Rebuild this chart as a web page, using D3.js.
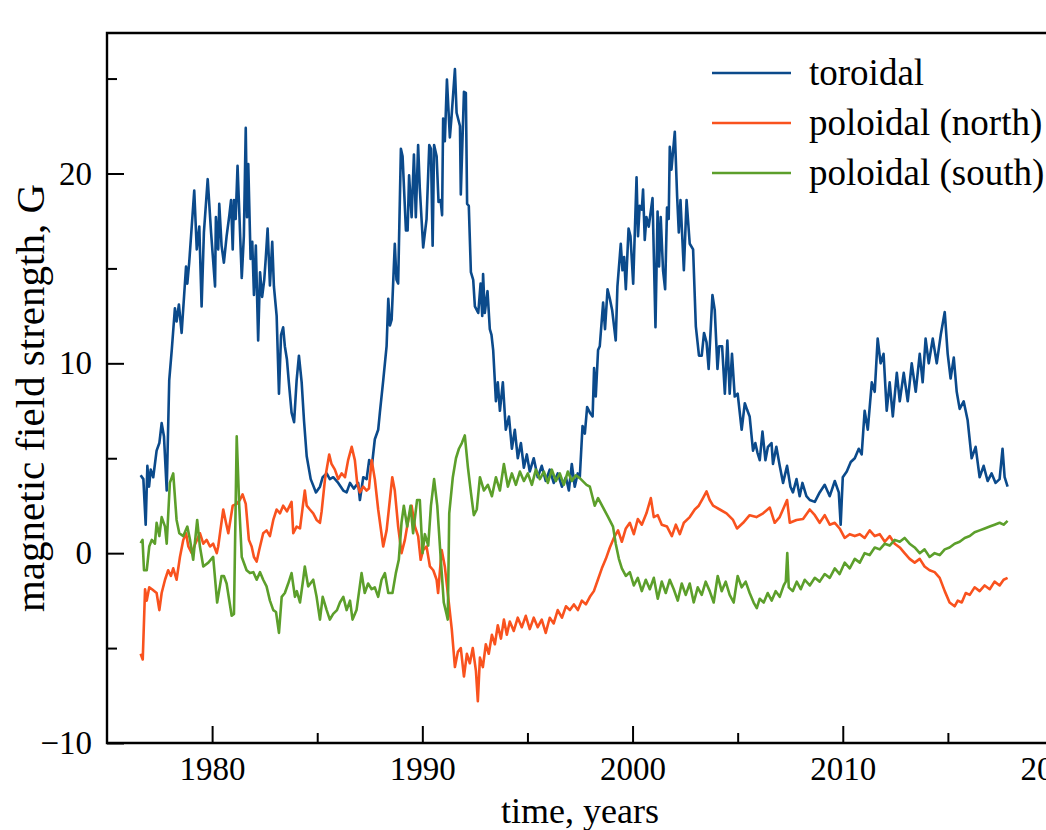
<!DOCTYPE html>
<html>
<head>
<meta charset="utf-8">
<script src="https://cdn.jsdelivr.net/npm/d3@7"></script>
<style>
  body { margin: 0; background: #fff; }
  svg { display: block; font-family: "Liberation Serif", "Times New Roman", serif; }
</style>
</head>
<body>
<svg class="chart"></svg>
<script>
// [year, field strength in G]
const toroidal = [
  [1976.60,4.1],[1976.73,3.9],[1976.84,1.5],[1976.92,4.6],[1977.00,3.5],[1977.08,4.4],[1977.20,4.0],
  [1977.36,5.4],[1977.49,5.8],[1977.60,6.85],[1977.71,6.15],[1977.84,3.3],[1977.96,9.1],[1978.08,10.7],
  [1978.23,12.9],[1978.31,12.2],[1978.42,13.1],[1978.55,11.6],[1978.76,15.1],[1978.82,14.2],[1978.91,15.3],
  [1979.15,19.1],[1979.27,16.0],[1979.39,17.2],[1979.50,13.0],[1979.61,16.9],[1979.79,19.7],[1979.95,16.9],
  [1980.14,14.05],[1980.18,17.7],[1980.29,16.0],[1980.34,18.4],[1980.45,16.2],[1980.56,15.3],[1980.69,16.7],
  [1980.82,17.8],[1980.90,18.6],[1980.98,16.0],[1981.04,18.6],[1981.12,17.6],[1981.21,20.4],[1981.41,14.5],
  [1981.51,16.7],[1981.60,22.4],[1981.66,17.7],[1981.72,20.5],[1981.83,15.5],[1981.91,16.4],[1981.99,13.6],
  [1982.08,16.2],[1982.19,11.2],[1982.28,14.8],[1982.38,13.5],[1982.48,14.4],[1982.55,15.5],[1982.64,17.1],
  [1982.75,14.1],[1982.86,16.4],[1982.94,14.05],[1983.07,12.5],[1983.18,8.4],[1983.28,11.5],[1983.38,11.9],
  [1983.46,10.9],[1983.56,10.2],[1983.65,9.0],[1983.78,7.4],[1983.90,6.9],[1984.02,9.1],[1984.13,10.4],
  [1984.26,9.0],[1984.37,7.0],[1984.50,5.1],[1984.69,3.9],[1984.94,3.2],[1985.13,3.5],[1985.26,4.0],
  [1985.45,4.2],[1985.60,3.9],[1985.76,4.0],[1986.00,3.7],[1986.24,3.3],[1986.40,3.2],[1986.56,3.7],
  [1986.74,3.4],[1986.95,3.7],[1987.03,2.8],[1987.19,4.0],[1987.35,3.9],[1987.47,4.9],[1987.60,4.6],
  [1987.74,6.0],[1987.90,6.5],[1987.98,7.4],[1988.14,9.1],[1988.30,10.9],[1988.38,13.4],[1988.46,12.0],
  [1988.54,12.3],[1988.69,16.3],[1988.77,14.4],[1988.85,14.2],[1988.98,21.3],[1989.06,20.9],[1989.22,17.0],
  [1989.30,17.0],[1989.37,19.9],[1989.49,17.7],[1989.60,21.0],[1989.69,17.7],[1989.80,21.5],[1989.88,19.2],
  [1990.04,16.1],[1990.20,17.6],[1990.33,21.5],[1990.41,21.3],[1990.49,16.2],[1990.56,21.5],[1990.68,20.9],
  [1990.77,18.5],[1990.87,18.6],[1990.94,17.8],[1990.99,22.9],[1991.07,21.7],[1991.17,24.95],[1991.31,21.9],
  [1991.39,23.0],[1991.55,25.5],[1991.63,23.2],[1991.79,22.5],[1991.83,18.9],[1991.98,24.3],[1992.07,24.25],
  [1992.13,18.4],[1992.21,18.3],[1992.31,14.8],[1992.42,14.4],[1992.50,13.0],[1992.66,12.65],[1992.77,14.2],
  [1992.85,12.5],[1992.89,14.7],[1992.97,12.65],[1993.10,13.8],[1993.21,11.8],[1993.29,11.5],[1993.37,10.7],
  [1993.50,8.0],[1993.59,9.0],[1993.69,7.5],[1993.83,9.0],[1993.97,6.5],[1994.12,7.2],[1994.26,5.5],
  [1994.40,6.5],[1994.54,5.0],[1994.69,5.8],[1994.83,4.5],[1994.97,5.2],[1995.11,4.3],[1995.30,5.0],
  [1995.49,4.0],[1995.68,4.6],[1995.87,3.8],[1996.06,4.4],[1996.25,3.7],[1996.44,4.2],[1996.64,3.5],
  [1996.83,4.0],[1996.97,3.3],[1997.11,4.7],[1997.25,3.5],[1997.39,4.2],[1997.49,4.0],[1997.62,6.7],
  [1997.73,6.3],[1997.84,7.7],[1997.97,7.4],[1998.10,7.2],[1998.17,9.75],[1998.25,8.25],[1998.36,10.7],
  [1998.44,10.9],[1998.60,13.2],[1998.69,11.8],[1998.81,13.9],[1998.92,13.4],[1999.03,12.8],[1999.20,11.2],
  [1999.28,14.05],[1999.44,16.3],[1999.52,14.9],[1999.60,15.6],[1999.68,13.9],[1999.81,17.1],[1999.90,16.7],
  [2000.03,14.2],[2000.19,19.8],[2000.26,16.7],[2000.34,18.3],[2000.44,18.1],[2000.50,19.15],[2000.58,16.5],
  [2000.66,17.7],[2000.77,17.2],[2000.95,18.7],[2001.09,11.9],[2001.19,18.0],[2001.26,15.1],[2001.34,17.7],
  [2001.45,14.9],[2001.55,13.9],[2001.64,18.2],[2001.72,17.6],[2001.77,21.4],[2001.85,20.2],[2002.01,22.2],
  [2002.12,18.8],[2002.20,16.9],[2002.28,18.6],[2002.44,14.9],[2002.57,18.6],[2002.72,16.3],[2002.88,16.0],
  [2003.01,11.95],[2003.16,10.4],[2003.29,10.4],[2003.40,11.6],[2003.52,11.1],[2003.62,9.7],[2003.80,13.6],
  [2003.91,12.8],[2004.04,9.7],[2004.12,10.9],[2004.26,10.9],[2004.39,8.4],[2004.51,11.2],[2004.62,8.4],
  [2004.73,10.5],[2004.86,8.25],[2005.00,8.4],[2005.19,6.5],[2005.34,7.9],[2005.45,7.55],[2005.57,7.2],
  [2005.73,5.4],[2005.84,5.8],[2005.94,5.3],[2006.05,4.9],[2006.18,6.4],[2006.32,4.9],[2006.44,5.6],
  [2006.61,5.8],[2006.68,4.7],[2006.84,5.6],[2007.00,4.6],[2007.16,3.7],[2007.35,4.6],[2007.51,3.5],
  [2007.63,3.2],[2007.80,3.9],[2007.95,3.0],[2008.08,3.7],[2008.27,3.0],[2008.43,2.8],[2008.67,2.7],
  [2008.90,3.2],[2009.14,3.6],[2009.38,3.0],[2009.62,3.8],[2009.81,3.2],[2009.90,1.5],[2010.00,4.0],
  [2010.19,4.3],[2010.38,4.8],[2010.57,5.0],[2010.76,5.5],[2010.90,5.2],[2011.04,7.5],[2011.19,6.5],
  [2011.38,9.0],[2011.52,8.5],[2011.66,11.3],[2011.80,10.0],[2011.94,10.5],[2012.09,7.5],[2012.23,9.0],
  [2012.38,7.2],[2012.57,9.5],[2012.71,8.0],[2012.90,9.5],[2013.09,8.0],[2013.28,10.0],[2013.47,8.5],
  [2013.66,10.5],[2013.80,9.0],[2013.94,11.3],[2014.09,10.0],[2014.28,11.3],[2014.47,10.0],[2014.66,11.5],
  [2014.85,12.7],[2014.99,10.5],[2015.13,9.2],[2015.28,10.3],[2015.42,8.5],[2015.56,7.6],[2015.75,8.0],
  [2015.94,7.0],[2016.13,5.0],[2016.32,5.6],[2016.51,4.0],[2016.70,4.6],[2016.89,3.8],[2017.08,4.2],
  [2017.27,3.7],[2017.46,3.9],[2017.60,5.5],[2017.70,4.0],[2017.84,3.5]
];

const poloidalNorth = [
  [1976.60,-5.3],[1976.70,-5.6],[1976.81,-1.9],[1976.89,-2.5],[1977.01,-1.8],[1977.14,-1.9],[1977.36,-2.1],
  [1977.49,-3.0],[1977.60,-2.1],[1977.76,-1.4],[1977.91,-0.9],[1978.04,-1.2],[1978.15,-0.8],[1978.31,-1.4],
  [1978.47,-0.2],[1978.63,0.7],[1978.76,1.05],[1978.87,0.35],[1979.03,0.0],[1979.18,0.44],[1979.42,1.05],
  [1979.58,0.5],[1979.74,0.7],[1979.90,0.35],[1980.05,0.5],[1980.22,0.0],[1980.29,0.35],[1980.53,2.3],
  [1980.66,1.6],[1980.77,1.05],[1980.98,2.5],[1981.17,2.6],[1981.32,2.8],[1981.45,3.1],[1981.60,2.6],
  [1981.75,0.7],[1981.88,0.35],[1981.99,-0.2],[1982.12,-0.44],[1982.24,0.17],[1982.43,1.05],[1982.59,1.2],
  [1982.75,0.9],[1982.91,1.75],[1983.07,2.3],[1983.23,2.1],[1983.38,2.5],[1983.56,2.2],[1983.78,2.7],
  [1983.86,1.05],[1984.02,1.4],[1984.18,1.3],[1984.41,3.3],[1984.50,2.5],[1984.65,2.3],[1984.81,2.1],
  [1984.97,1.75],[1985.13,1.6],[1985.21,2.2],[1985.37,3.9],[1985.57,5.2],[1985.68,4.7],[1985.84,4.4],
  [1986.00,3.9],[1986.16,4.2],[1986.32,4.0],[1986.47,4.9],[1986.64,5.6],[1986.79,4.9],[1986.90,3.7],
  [1987.03,3.2],[1987.19,3.5],[1987.35,3.3],[1987.46,3.4],[1987.59,4.9],[1987.74,3.9],[1987.90,2.3],
  [1988.14,0.35],[1988.30,1.2],[1988.57,4.0],[1988.69,3.3],[1988.85,1.4],[1989.01,0.0],[1989.17,0.7],
  [1989.33,1.75],[1989.49,2.5],[1989.65,1.4],[1989.80,0.9],[1989.92,-0.35],[1990.04,0.17],[1990.20,0.35],
  [1990.36,-0.7],[1990.52,-0.9],[1990.68,-1.4],[1990.75,-2.1],[1990.92,0.17],[1991.07,-0.7],[1991.23,-2.3],
  [1991.40,-4.0],[1991.55,-6.0],[1991.69,-5.2],[1991.83,-5.0],[1991.98,-6.5],[1992.12,-5.3],[1992.26,-5.8],
  [1992.40,-5.0],[1992.55,-6.2],[1992.64,-7.8],[1992.74,-5.5],[1992.88,-6.0],[1993.02,-4.8],[1993.16,-5.3],
  [1993.31,-4.3],[1993.45,-4.8],[1993.59,-3.8],[1993.74,-4.5],[1993.88,-3.5],[1994.02,-4.3],[1994.16,-3.6],
  [1994.35,-4.1],[1994.54,-3.4],[1994.73,-3.9],[1994.92,-3.3],[1995.11,-4.0],[1995.30,-3.4],[1995.49,-3.9],
  [1995.68,-3.5],[1995.87,-4.2],[1996.06,-3.4],[1996.25,-3.7],[1996.44,-3.0],[1996.64,-3.4],[1996.83,-2.8],
  [1997.02,-3.0],[1997.21,-2.7],[1997.40,-3.0],[1997.59,-2.5],[1997.78,-2.7],[1997.97,-2.3],[1998.16,-2.0],
  [1998.35,-1.4],[1998.54,-0.8],[1998.73,-0.3],[1998.92,0.3],[1999.11,0.8],[1999.31,1.2],[1999.49,0.6],
  [1999.68,1.3],[1999.87,1.6],[2000.06,1.0],[2000.25,1.8],[2000.44,1.5],[2000.66,2.1],[2000.87,2.9],
  [2001.01,1.9],[2001.20,2.0],[2001.39,1.5],[2001.64,1.4],[2001.87,0.9],[2002.06,1.5],[2002.25,1.0],
  [2002.44,1.6],[2002.72,1.9],[2002.96,2.3],[2003.15,2.5],[2003.35,2.9],[2003.52,3.25],[2003.67,2.8],
  [2003.83,2.5],[2004.15,2.3],[2004.47,2.1],[2004.78,1.75],[2004.97,1.3],[2005.26,1.6],[2005.57,2.0],
  [2005.89,1.9],[2006.21,2.1],[2006.53,2.4],[2006.76,1.6],[2007.00,1.9],[2007.35,2.8],[2007.48,1.6],
  [2007.80,1.75],[2008.11,1.8],[2008.43,2.3],[2008.67,2.0],[2008.90,1.6],[2009.14,2.0],[2009.38,1.5],
  [2009.62,1.6],[2009.85,1.3],[2010.09,0.8],[2010.33,1.0],[2010.57,0.9],[2010.81,1.0],[2011.04,0.8],
  [2011.28,1.2],[2011.52,0.9],[2011.76,1.0],[2012.00,0.6],[2012.23,0.9],[2012.47,0.5],[2012.71,0.3],
  [2012.94,0.0],[2013.18,-0.3],[2013.42,-0.5],[2013.66,-0.3],[2013.89,-0.7],[2014.13,-0.9],[2014.37,-1.0],
  [2014.61,-1.3],[2014.85,-2.0],[2015.08,-2.6],[2015.32,-2.8],[2015.47,-2.5],[2015.66,-2.6],[2015.85,-2.1],
  [2016.04,-2.2],[2016.27,-1.8],[2016.51,-2.0],[2016.75,-1.7],[2016.99,-1.9],[2017.22,-1.5],[2017.46,-1.7],
  [2017.65,-1.4],[2017.84,-1.3]
];

const poloidalSouth = [
  [1976.60,0.53],[1976.69,0.7],[1976.76,-0.9],[1976.89,-0.9],[1977.01,0.35],[1977.13,0.7],[1977.28,0.5],
  [1977.36,1.6],[1977.49,0.9],[1977.60,1.9],[1977.76,1.4],[1977.84,0.5],[1977.99,3.7],[1978.15,4.2],
  [1978.31,1.75],[1978.44,1.05],[1978.63,0.9],[1978.82,1.4],[1978.95,0.7],[1979.10,-0.35],[1979.29,1.75],
  [1979.42,0.35],[1979.58,-0.7],[1979.82,-0.5],[1980.05,-0.2],[1980.24,-2.6],[1980.45,-1.2],[1980.56,-1.2],
  [1980.69,-1.6],[1980.93,-3.3],[1981.04,-3.2],[1981.17,6.15],[1981.29,2.5],[1981.41,-0.2],[1981.64,-0.9],
  [1981.80,-1.05],[1981.96,-1.0],[1982.12,-1.4],[1982.28,-1.0],[1982.43,-1.4],[1982.59,-1.75],[1982.75,-2.5],
  [1982.91,-3.0],[1983.04,-3.1],[1983.18,-4.2],[1983.31,-2.3],[1983.46,-2.1],[1983.62,-1.6],[1983.78,-1.05],
  [1983.94,-2.3],[1984.03,-2.0],[1984.18,-2.6],[1984.33,-1.4],[1984.41,-0.7],[1984.57,-1.75],[1984.81,-1.4],
  [1984.97,-2.3],[1985.13,-3.5],[1985.26,-2.3],[1985.45,-3.0],[1985.60,-3.5],[1985.76,-3.2],[1985.94,-3.0],
  [1986.08,-2.6],[1986.24,-2.3],[1986.40,-3.0],[1986.56,-2.5],[1986.68,-3.5],[1986.87,-3.0],[1987.11,-1.05],
  [1987.26,-2.1],[1987.42,-1.6],[1987.59,-1.9],[1987.74,-1.8],[1987.90,-2.3],[1988.06,-1.4],[1988.22,-1.05],
  [1988.38,-2.1],[1988.58,-2.1],[1988.74,-1.05],[1988.88,-0.35],[1989.01,1.6],[1989.12,2.5],[1989.28,1.4],
  [1989.44,2.5],[1989.56,1.05],[1989.75,2.8],[1989.88,2.8],[1990.01,0.0],[1990.12,1.0],[1990.28,0.4],
  [1990.41,2.5],[1990.56,3.9],[1990.71,2.5],[1990.87,-0.2],[1991.02,-2.6],[1991.15,-3.2],[1991.21,-3.5],
  [1991.28,2.1],[1991.45,4.0],[1991.60,5.0],[1991.74,5.5],[1991.88,5.8],[1992.02,6.2],[1992.17,4.5],
  [1992.31,3.2],[1992.45,2.0],[1992.59,2.3],[1992.74,4.0],[1992.93,3.3],[1993.12,3.6],[1993.31,3.0],
  [1993.50,4.0],[1993.69,3.3],[1993.88,4.7],[1994.07,3.5],[1994.26,4.2],[1994.45,3.6],[1994.64,4.3],
  [1994.83,3.8],[1995.02,4.2],[1995.21,3.6],[1995.40,4.4],[1995.59,3.9],[1995.78,4.3],[1995.97,3.7],
  [1996.16,4.4],[1996.35,3.8],[1996.54,4.2],[1996.73,3.6],[1996.92,4.3],[1997.11,3.8],[1997.30,4.1],
  [1997.49,3.95],[1997.81,3.6],[1997.97,3.5],[1998.20,2.5],[1998.36,2.9],[1998.60,2.4],[1998.84,1.9],
  [1999.07,1.4],[1999.20,0.5],[1999.35,-0.3],[1999.49,-0.8],[1999.68,-1.2],[1999.87,-1.0],[2000.06,-1.7],
  [2000.25,-1.3],[2000.44,-2.0],[2000.63,-1.4],[2000.82,-1.9],[2001.01,-1.3],[2001.20,-2.4],[2001.39,-1.5],
  [2001.58,-2.1],[2001.77,-1.4],[2001.96,-1.9],[2002.15,-2.5],[2002.34,-1.6],[2002.53,-2.2],[2002.72,-1.6],
  [2002.91,-2.6],[2003.10,-1.8],[2003.29,-2.2],[2003.48,-1.5],[2003.67,-2.0],[2003.86,-2.6],[2004.05,-1.2],
  [2004.24,-2.0],[2004.43,-1.5],[2004.62,-2.2],[2004.81,-2.6],[2005.00,-1.2],[2005.19,-1.8],[2005.38,-1.5],
  [2005.57,-2.1],[2005.76,-2.6],[2005.91,-2.9],[2006.05,-2.4],[2006.24,-2.6],[2006.43,-2.1],[2006.62,-2.5],
  [2006.81,-2.0],[2007.00,-2.3],[2007.19,-1.7],[2007.29,-1.5],[2007.36,0.0],[2007.43,-1.8],[2007.62,-2.0],
  [2007.81,-1.5],[2008.00,-1.9],[2008.19,-1.4],[2008.43,-1.7],[2008.67,-1.3],[2008.90,-1.5],[2009.14,-1.1],
  [2009.38,-1.3],[2009.62,-0.8],[2009.85,-1.1],[2010.09,-0.5],[2010.33,-0.8],[2010.57,-0.3],[2010.81,-0.5],
  [2011.04,0.0],[2011.28,-0.1],[2011.52,0.3],[2011.76,0.2],[2012.00,0.5],[2012.23,0.4],[2012.47,0.7],
  [2012.71,0.6],[2012.94,0.8],[2013.18,0.5],[2013.42,0.3],[2013.66,0.0],[2013.89,0.2],[2014.13,-0.2],
  [2014.37,0.0],[2014.61,-0.1],[2014.85,0.2],[2015.08,0.3],[2015.32,0.5],[2015.56,0.6],[2015.80,0.8],
  [2016.04,0.9],[2016.27,1.1],[2016.51,1.2],[2016.75,1.3],[2016.99,1.4],[2017.22,1.5],[2017.46,1.6],
  [2017.65,1.5],[2017.84,1.7]
];

const seriesNames = ['toroidal', 'poloidal (north)', 'poloidal (south)'];
const seriesColors = ['#0b4a8b', '#f9521e', '#5c9f2b'];
const xMajorTicks = [1980, 1990, 2000, 2010, 2020];
const xMinorTicks = [1985, 1995, 2005, 2015];
const yMajorTicks = [-10, 0, 10, 20];
const yMinorTicks = [-5, 5, 15, 25];

const width = 1046, height = 830;
const margin = {top: 33, left: 107, bottom: 743, right: 1053};

const svg = d3.select('.chart')
  .attr('width', width)
  .attr('height', height);

const x = d3.scaleLinear().domain([1975, 2020]).range([margin.left, margin.right]);
const y = d3.scaleLinear().domain([-10, 27.4]).range([margin.bottom, margin.top]);

svg.append('clipPath').attr('id', 'plot-clip')
  .append('rect')
  .attr('x', margin.left).attr('y', margin.top)
  .attr('width', margin.right - margin.left)
  .attr('height', margin.bottom - margin.top);

const line = d3.line().x(d => x(d[0])).y(d => y(d[1]));

const lines = svg.append('g').attr('clip-path', 'url(#plot-clip)');
[toroidal, poloidalNorth, poloidalSouth].forEach((data, i) => {
  lines.append('path')
    .datum(data)
    .attr('fill', 'none')
    .attr('stroke', seriesColors[i])
    .attr('stroke-width', 2.6)
    .attr('stroke-linejoin', 'round')
    .attr('d', line);
});

// axes, ticks pointing inwards
svg.append('g')
  .attr('transform', `translate(0,${margin.bottom})`)
  .call(d3.axisBottom(x).tickValues(xMajorTicks).tickSize(-17).tickPadding(14).tickFormat(d3.format('d')));
svg.append('g')
  .attr('transform', `translate(0,${margin.bottom})`)
  .call(d3.axisBottom(x).tickValues(xMinorTicks).tickSize(-10).tickFormat(''));

svg.append('g')
  .attr('transform', `translate(${margin.left},0)`)
  .call(d3.axisLeft(y).tickValues(yMajorTicks).tickSize(-17).tickPadding(15)
    .tickFormat(d => d < 0 ? '\u2212' + Math.abs(d) : d));
svg.append('g')
  .attr('transform', `translate(${margin.left},0)`)
  .call(d3.axisLeft(y).tickValues(yMinorTicks).tickSize(-10).tickFormat(''));

svg.selectAll('.domain').remove();
svg.selectAll('.tick line').attr('stroke', '#000').attr('stroke-width', 2);
svg.selectAll('.tick text')
  .attr('fill', '#000')
  .style('font-family', '"Liberation Serif", serif')
  .style('font-size', '33px');

// spines
svg.append('path')
  .attr('fill', 'none')
  .attr('stroke', '#000')
  .attr('stroke-width', 2.4)
  .attr('d', `M${margin.right},${margin.top}H${margin.left}V${margin.bottom}H${margin.right}`);

// axis labels
svg.append('text')
  .attr('x', (margin.left + margin.right) / 2)
  .attr('y', 823)
  .attr('text-anchor', 'middle')
  .style('font-size', '36px')
  .text('time, years');

svg.append('text')
  .attr('transform', `translate(44,${(margin.top + margin.bottom) / 2 + 10}) rotate(-90)`)
  .attr('text-anchor', 'middle')
  .style('font-size', '41px')
  .text('magnetic field strength, G');

// legend
const legend = svg.append('g').attr('transform', 'translate(712,73)');
seriesNames.forEach((name, i) => {
  const row = legend.append('g').attr('transform', `translate(0,${i * 50})`);
  row.append('line')
    .attr('x1', 0).attr('x2', 79)
    .attr('stroke', seriesColors[i])
    .attr('stroke-width', 2.6);
  row.append('text')
    .attr('x', 97)
    .attr('y', 12)
    .style('font-size', '37px')
    .text(name);
});
</script>
</body>
</html>
